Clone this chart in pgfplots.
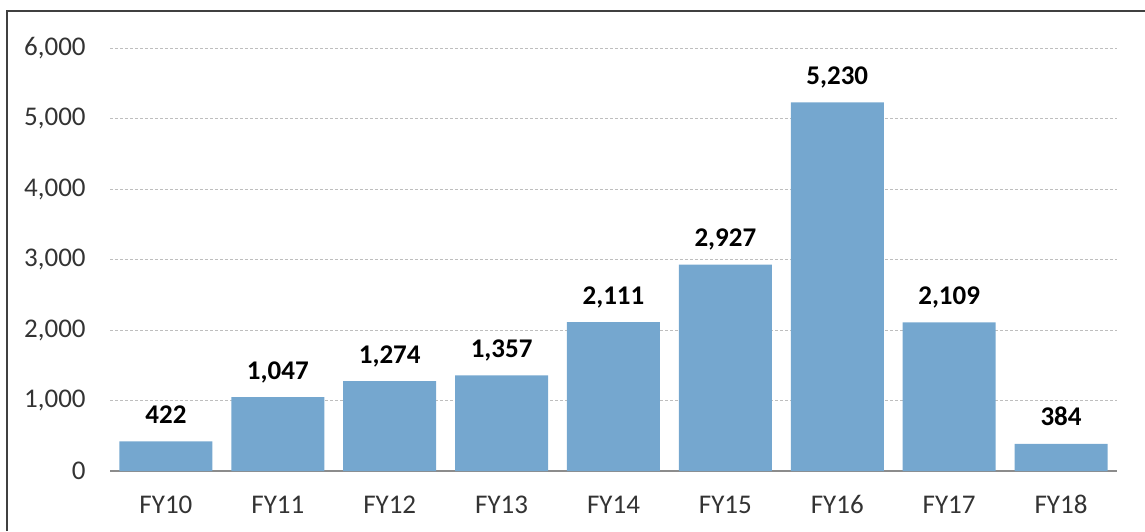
\documentclass[border=0pt]{standalone}
\usepackage{pgfplots}
\pgfplotsset{compat=1.18}
\usepackage{fontspec}
\setmainfont{Carlito}
\definecolor{barblue}{RGB}{117,167,207}
\definecolor{gridgray}{RGB}{190,190,190}
\definecolor{axisgray}{RGB}{140,140,140}
\definecolor{framegray}{RGB}{64,64,64}
\begin{document}
\begin{tikzpicture}
\useasboundingbox (0,0) rectangle (572.5pt,-265.5pt);
\draw[line width=1pt, framegray] (3.5pt,-265.5pt) -- (3.5pt,-5.25pt) -- (572.5pt,-5.25pt);
\begin{axis}[
  at={(55pt,-235.5pt)}, anchor=south west,
  scale only axis, width=503.5pt, height=211.5pt,
  ybar, bar width=46.5pt,
  xmin=-0.5, xmax=8.5, ymin=0, ymax=6000,
  xtick=data,
  xticklabels={FY10,FY11,FY12,FY13,FY14,FY15,FY16,FY17,FY18},
  ytick={0,1000,2000,3000,4000,5000,6000},
  axis x line*=bottom, axis y line*=left,
  x axis line style={draw=axisgray, line width=0.75pt, -},
  y axis line style={draw=none},
  ymajorgrids,
  grid style={gridgray, line width=0.5pt, dash pattern=on 1.5pt off 1pt},
  major tick length=0pt,
  tick style={draw=none},
  /pgf/number format/.cd, 1000 sep={,}, assume math mode=true,
  /pgfplots/.cd,
  every tick label/.append style={font=\fontsize{13.5pt}{16pt}\selectfont, text=black!80},
  xticklabel style={anchor=base, inner sep=0pt, yshift=-21pt},
  yticklabel style={anchor=east, inner sep=0pt, xshift=-12pt},
  nodes near coords,
  every node near coord/.append style={font=\fontsize{13.5pt}{16pt}\selectfont\bfseries, text=black, anchor=base, inner sep=0pt, yshift=9pt},
  clip=false,
]
\addplot[fill=barblue, draw=none] coordinates {
(0,422) (1,1047) (2,1274) (3,1357) (4,2111) (5,2927) (6,5230) (7,2109) (8,384)
};
\end{axis}
\end{tikzpicture}
\end{document}
